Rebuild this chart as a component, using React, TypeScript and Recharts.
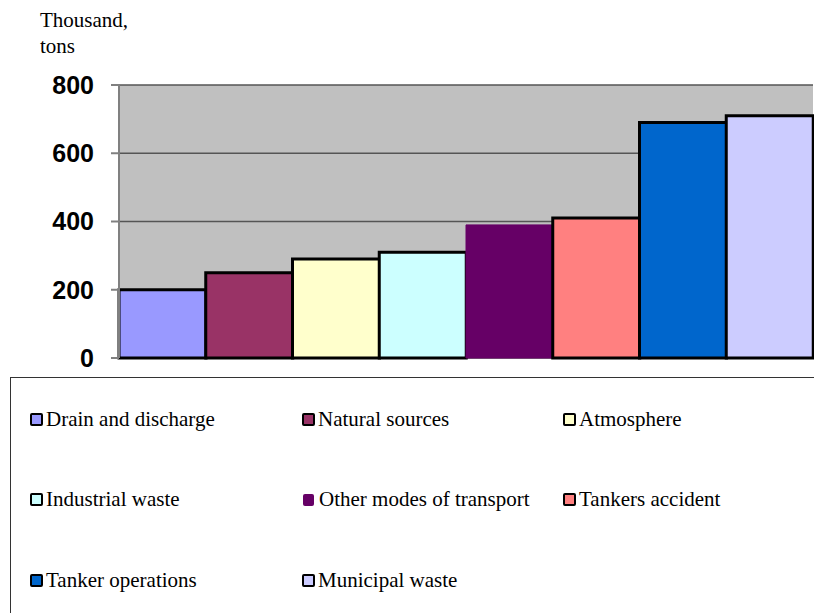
import React from 'react';
import { BarChart, Bar, XAxis, YAxis, CartesianGrid, Cell } from 'recharts';

const sources = [
  'Drain and discharge',
  'Natural sources',
  'Atmosphere',
  'Industrial waste',
  'Other modes of transport',
  'Tankers accident',
  'Tanker operations',
  'Municipal waste',
];

const amounts = [200, 250, 290, 310, 390, 410, 690, 710];

const colors = ['#9999FF', '#993366', '#FFFFCC', '#CCFFFF', '#660066', '#FF8080', '#0066CC', '#CCCCFF'];

// the "Other modes of transport" bar is drawn without the black outline
const outlined = [true, true, true, true, false, true, true, true];

const yTicks = [0, 200, 400, 600, 800];

const data = sources.map((name, i) => ({ name, value: amounts[i] }));

const serif = "'Liberation Serif', Tinos, Times, 'DejaVu Serif', serif";

export default function App() {
  return (
    <div style={{ position: 'absolute', left: 0, top: 0, width: 814, height: 613, overflow: 'hidden', background: '#fff' }}>
      <div style={{ position: 'absolute', left: 40, top: 7, fontFamily: serif, fontSize: 21, lineHeight: '26px', color: '#000' }}>
        Thousand,<br />tons
      </div>

      <BarChart
        width={814}
        height={613}
        data={data}
        margin={{ top: 85, right: 1, bottom: 255, left: 0 }}
        barCategoryGap={0}
      >
        <CartesianGrid vertical={false} fill="#C0C0C0" stroke="#555" strokeWidth={1.5} />
        <XAxis xAxisId="top" dataKey="name" orientation="top" height={0} tick={false} tickLine={false} axisLine={{ stroke: '#808080', strokeWidth: 2 }} />
        <XAxis dataKey="name" height={0} tick={false} tickLine={false} axisLine={{ stroke: '#000', strokeWidth: 2 }} />
        <YAxis
          domain={[0, 800]}
          ticks={yTicks}
          width={119}
          tickSize={8}
          tickMargin={17}
          axisLine={{ stroke: '#808080', strokeWidth: 2 }}
          tickLine={{ stroke: '#808080', strokeWidth: 2 }}
          tick={{ fill: '#000', fontSize: 25, fontWeight: 'bold', fontFamily: "'Liberation Sans', Arial, sans-serif" }}
        />
        <YAxis yAxisId="right" orientation="right" domain={[0, 800]} width={0} tick={false} tickLine={false} axisLine={{ stroke: '#808080', strokeWidth: 2 }} />
        <Bar dataKey="value" isAnimationActive={false}>
          {data.map((entry, i) => (
            <Cell
              key={`cell-${i}`}
              fill={colors[i]}
              stroke={outlined[i] ? '#000' : colors[i]}
              strokeWidth={outlined[i] ? 3 : 1}
            />
          ))}
        </Bar>
      </BarChart>

      <div
        style={{
          position: 'absolute',
          left: 10,
          top: 377,
          width: 830,
          height: 260,
          borderTop: '1.5px solid #333',
          borderLeft: '1.5px solid #333',
        }}
      />
      {sources.map((name, i) => {
        const col = i % 3;
        const row = Math.floor(i / 3);
        return (
          <div
            key={name}
            style={{
              position: 'absolute',
              left: [30, 302, 563][col],
              top: 419 + row * 80.5 - 14,
              height: 28,
              display: 'flex',
              alignItems: 'center',
              fontFamily: serif,
              fontSize: 21,
              color: '#000',
              whiteSpace: 'nowrap',
            }}
          >
            <span
              style={{
                display: 'inline-block',
                width: outlined[i] ? 9 : 11,
                height: outlined[i] ? 9 : 12,
                background: colors[i],
                border: outlined[i] ? '2px solid #000' : 'none',
                borderRadius: 2,
                marginRight: outlined[i] ? 3 : 5,
                marginLeft: outlined[i] ? 0 : 1,
              }}
            />
            <span>{name}</span>
          </div>
        );
      })}
    </div>
  );
}
